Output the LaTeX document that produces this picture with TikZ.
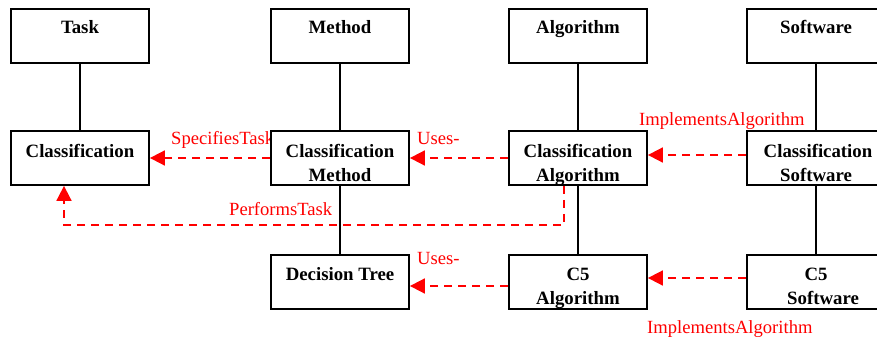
\documentclass[tikz,border=0pt]{standalone}
\usepackage{fontspec}
\setmainfont[Ligatures=NoCommon]{Liberation Serif}
\usetikzlibrary{arrows.meta}
\tikzset{
  box/.style={draw=black, line width=1.8pt, fill=white, minimum width=138pt, minimum height=54pt, inner sep=0pt},
  title/.style={anchor=base, inner sep=0pt, font=\fontsize{18.8pt}{22pt}\selectfont\bfseries},
  rellabel/.style={anchor=base west, inner sep=0pt, text=red, font=\fontsize{18.6pt}{22pt}\selectfont},
  tie/.style={draw=black, line width=1.8pt},
  rel/.style={draw=red, line width=1.8pt, dash pattern=on 8pt off 6pt,
              -{Triangle[length=15pt,width=15pt]}},
}
\begin{document}
\begin{tikzpicture}[x=1pt, y=-1pt]
\useasboundingbox (0,0) rectangle (877,339);
\clip (0,0) rectangle (877,339);

% relation labels (drawn first, so boxes sit on top of them)
\node[rellabel] (lspec)  at (171,145) {SpecifiesTask};
\node[rellabel] (luse1)  at (417,145) {Uses-};
\node[rellabel] (limpl1) at (639,126) {ImplementsAlgorithm};
\node[rellabel] (lperf)  at (229,215) {PerformsTask};
\node[rellabel] (luse2)  at (417,264) {Uses-};
\node[rellabel] (limpl2) at (647,333) {ImplementsAlgorithm};

% concept boxes
\node[box] (task) at (80,36)  {};
\node[box] (meth) at (340,36) {};
\node[box] (algo) at (578,36) {};
\node[box] (soft) at (816,36) {};
\node[box] (cls)   at (80,158)  {};
\node[box] (cmeth) at (340,158) {};
\node[box] (calg)  at (578,158) {};
\node[box] (csoft) at (816,158) {};
\node[box] (dtree) at (340,282) {};
\node[box] (cfive) at (578,282) {};
\node[box] (csw)   at (816,282) {};

% box titles
\node[title] (ttask) at (80,34)  {Task};
\node[title] (tmeth) at (340,34) {Method};
\node[title] (talgo) at (578,34) {Algorithm};
\node[title] (tsoft) at (816,34) {Software};
\node[title] (tcls)   at (80,158)  {Classification};
\node[title] (tcm1)   at (340,158) {Classification};
\node[title] (tcm2)   at (340,182) {Method};
\node[title] (tca1)   at (578,158) {Classification};
\node[title] (tca2)   at (578,182) {Algorithm};
\node[title] (tcs1)   at (818,158) {Classification};
\node[title] (tcs2)   at (816,182) {Software};
\node[title] (tdt)    at (340,280) {Decision Tree};
\node[title] (tc51)   at (578,280) {C5};
\node[title] (tc52)   at (578,304) {Algorithm};
\node[title] (tcw1)   at (816,280) {C5};
\node[title] (tcw2)   at (823,304) {Software};

% hierarchy links
\draw[tie] (task) -- (cls);
\draw[tie] (meth) -- (cmeth);
\draw[tie] (cmeth) -- (dtree);
\draw[tie] (algo) -- (calg);
\draw[tie] (calg) -- (cfive);
\draw[tie] (soft) -- (csoft);
\draw[tie] (csoft) -- (csw);

% relations
\draw[rel] (cmeth.west) -- (cls.east);
\draw[rel] (calg.west) -- (cmeth.east);
\draw[rel] ([yshift=3pt]csoft.west) -- ([yshift=3pt]calg.east);
\draw[rel] ([xshift=-14pt]calg.south) -- ++(0,39) -| ([xshift=-16pt]cls.south);
\draw[rel] ([yshift=-4pt]cfive.west) -- ([yshift=-4pt]dtree.east);
\draw[rel] ([yshift=4pt]csw.west) -- ([yshift=4pt]cfive.east);
\end{tikzpicture}
\end{document}
